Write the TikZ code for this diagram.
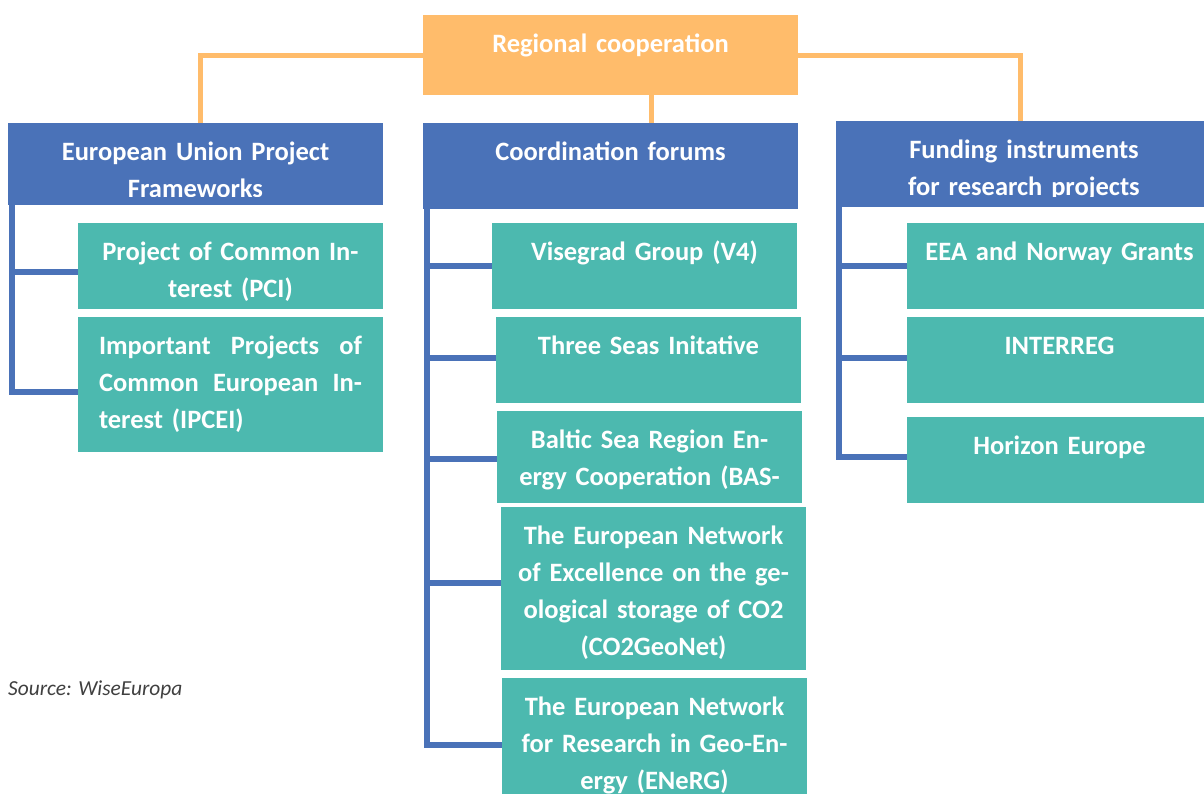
\documentclass[tikz,border=0pt]{standalone}
\usepackage{fontspec}
\setmainfont{Carlito}
\definecolor{rcorange}{HTML}{FFBC6B}
\definecolor{rcblue}{HTML}{4A72B8}
\definecolor{rcteal}{HTML}{4CB9AF}
\definecolor{srcgrey}{HTML}{404040}
\tikzset{
  panel/.style={rectangle, inner sep=0pt, outer sep=0pt, anchor=north west, draw=none},
  toppanel/.style={panel, fill=rcorange},
  headpanel/.style={panel, fill=rcblue},
  itempanel/.style={panel, fill=rcteal, minimum width=305pt},
  caption/.style={anchor=base, inner sep=0pt, text=white, align=center, text width=300pt,
    font=\bfseries\fontsize{26.5}{37.3}\selectfont},
  orangelink/.style={draw=rcorange, line width=5pt},
  bluelink/.style={draw=rcblue, line width=5.5pt},
}
% a full-width justified line
\newcommand\fullline[1]{\leavevmode\hbox to 263pt{#1}}
\begin{document}
\begin{tikzpicture}[x=1pt,y=-1pt]
% page frame
\clip (0,0) rectangle (1204,793);
\fill[white] (0,0) rectangle (1204,793);

% panels
\node[toppanel, minimum width=375pt, minimum height=80pt] (reg) at (423,15) {};
\node[headpanel, minimum width=375pt, minimum height=82pt] (eu) at (8,123) {};
\node[headpanel, minimum width=375pt, minimum height=86pt] (coord) at (423,123) {};
\node[headpanel, minimum width=376pt, minimum height=86pt] (fund) at (836,121) {};

\node[itempanel, minimum height=86pt] (pci) at (78,223) {};
\node[itempanel, minimum height=135pt] (ipcei) at (78,317) {};

\node[itempanel, minimum height=86pt] (v4) at (492,223) {};
\node[itempanel, minimum height=86pt] (tsi) at (496,317) {};
\node[itempanel, minimum height=92pt] (bas) at (497,411) {};
\node[itempanel, minimum height=163pt] (co2) at (501,507) {};
\node[itempanel, minimum height=130pt] (energ) at (502,678) {};

\node[itempanel, minimum height=86pt] (eea) at (907,223) {};
\node[itempanel, minimum height=86pt] (intr) at (907,317) {};
\node[itempanel, minimum height=86pt] (hor) at (907,417) {};

% captions
\node[caption] (regt) at ([yshift=-37pt]reg.north) {Regional cooperation};
\begin{scope}
  \clip (eu.north west) rectangle ([yshift=9pt]eu.south east);
  \node[caption] (eut) at ([yshift=-37pt]eu.north) {European Union Project\\Frameworks};
\end{scope}
\node[caption] (coordt) at ([yshift=-37pt]coord.north) {Coordination forums};
\begin{scope}
  \clip (fund.north west) rectangle ([yshift=11pt]fund.south east);
  \node[caption] (fundt) at ([yshift=-37pt]fund.north) {Funding instruments\\for research projects};
\end{scope}

\node[caption] (pcit) at ([yshift=-37pt]pci.north) {Project of Common In-\\terest (PCI)};
\node[caption] (ipceit) at ([yshift=-37pt]ipcei.north)
  {\fullline{Important\hfill Projects\hfill of}\\
   \fullline{Common\hfill European\hfill In-}\\
   \fullline{terest (IPCEI)\hfill}};

\node[caption] (v4t) at ([yshift=-37pt]v4.north) {Visegrad Group (V4)};
\node[caption] (tsit) at ([yshift=-37pt]tsi.north) {Three Seas Initative};
\node[caption] (bast) at ([yshift=-37pt]bas.north) {Baltic Sea Region En-\\ergy Cooperation (BAS-};
\node[caption] (co2t) at ([yshift=-37pt]co2.north) {The European Network\\of Excellence on the ge-\\ological storage of CO2\\(CO2GeoNet)};
\node[caption] (energt) at ([yshift=-37pt]energ.north) {The European Network\\for Research in Geo-En-\\ergy (ENeRG)};

\node[caption] (eeat) at ([yshift=-37pt]eea.north) {EEA and Norway Grants};
\node[caption] (intrt) at ([yshift=-37pt]intr.north) {INTERREG};
\node[caption] (hort) at ([yshift=-37pt]hor.north) {Horizon Europe};

% links from the top panel
\draw[orangelink] (reg.west) -| ([xshift=4.5pt]eu.north);
\draw[orangelink] (reg.east) -| ([xshift=-4pt]fund.north);
\draw[orangelink] ([xshift=40.5pt]reg.south) -- ([xshift=40.5pt]coord.north);

% branch trunks
\coordinate (eutrunk) at ([xshift=4pt]eu.south west);
\draw[bluelink] (eutrunk) |- ([yshift=-6pt]pci.west)
                (eutrunk) |- ([yshift=-7.5pt]ipcei.west);

\coordinate (cotrunk) at ([xshift=4pt]coord.south west);
\draw[bluelink] (cotrunk) |- (v4.west)
                (cotrunk) |- ([yshift=2pt]tsi.west)
                (cotrunk) |- ([yshift=-2pt]bas.west)
                (cotrunk) |- ([yshift=5.5pt]co2.west)
                (cotrunk) |- ([yshift=-2pt]energ.west);

\coordinate (futrunk) at ([xshift=3pt]fund.south west);
\draw[bluelink] (futrunk) |- (eea.west)
                (futrunk) |- ([yshift=2pt]intr.west)
                (futrunk) |- ([yshift=3pt]hor.west);

% source line
\node[anchor=base west, inner sep=0pt, text=srcgrey, font=\itshape\fontsize{21.4}{25}\selectfont]
  (source) at (8,695) {Source: WiseEuropa};
\end{tikzpicture}
\end{document}
